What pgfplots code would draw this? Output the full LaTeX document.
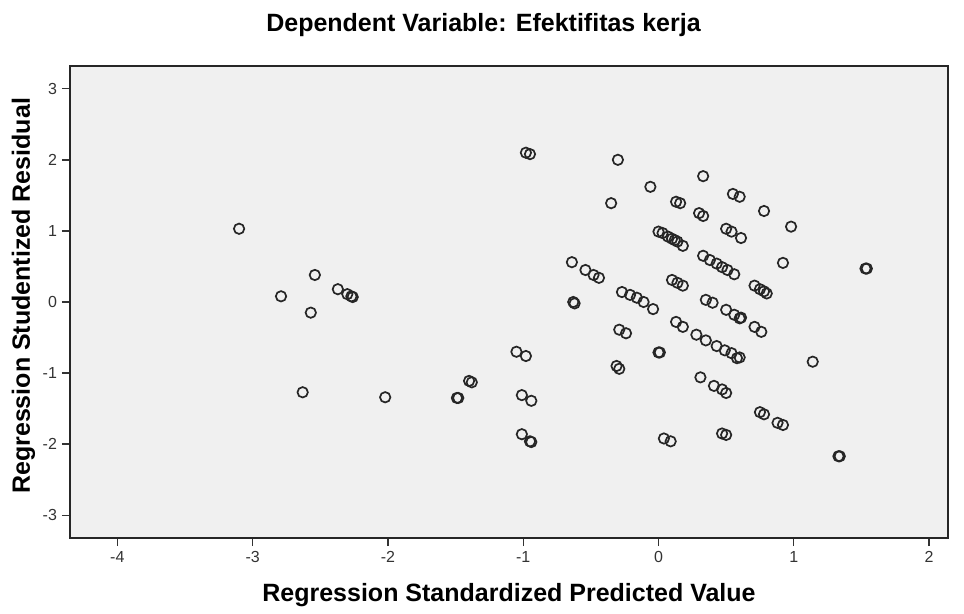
\documentclass[border=0pt]{standalone}
\usepackage{pgfplots}
\pgfplotsset{compat=1.18}
\usepackage{fontspec}
\setmainfont{Liberation Sans}
\begin{document}
\begin{tikzpicture}
\begin{axis}[
    scale only axis,
    width=439pt,
    height=236pt,
    xmin=-4.35, xmax=2.14,
    ymin=-3.32, ymax=3.32,
    xtick={-4,-3,-2,-1,0,1,2},
    ytick={-3,-2,-1,0,1,2,3},
    xtick pos=bottom,
    ytick pos=left,
    tick align=outside,
    major tick length=4pt,
    tick style={black!80, line width=0.7pt},
    axis line style={black!85, line width=0.9pt},
    axis background/.style={fill=black!6},
    /pgf/number format/assume math mode=true,
    tick label style={font=\fontsize{8}{9}\selectfont, black!80},
    xticklabel style={yshift=1pt},
    yticklabel style={xshift=1pt},
    clip=false,
    axis on top,
]
\addplot[only marks, mark=o, mark size=2.6pt,
    mark options={draw=black!85, line width=0.85pt}] table {
x y
-3.10 1.03
-2.79 0.08
-2.54 0.38
-2.57 -0.15
-2.37 0.18
-2.30 0.11
-2.27 0.08
-2.26 0.07
-2.63 -1.27
-2.02 -1.34
-1.49 -1.35
-1.48 -1.35
-1.40 -1.11
-1.38 -1.13
-1.05 -0.70
-0.98 -0.76
-1.01 -1.31
-0.94 -1.39
-1.01 -1.86
-0.95 -1.96
-0.94 -1.97
-0.98 2.10
-0.95 2.08
-0.63 0.00
-0.62 -0.02
-0.64 0.56
-0.54 0.45
-0.48 0.38
-0.44 0.34
-0.35 1.39
-0.30 2.00
-0.06 1.62
-0.31 -0.90
-0.29 -0.94
-0.27 0.14
-0.21 0.10
-0.16 0.06
-0.11 0.00
-0.04 -0.10
-0.29 -0.39
-0.24 -0.44
0.13 -0.28
0.18 -0.35
0.28 -0.46
0.35 -0.54
0.43 -0.62
0.49 -0.68
0.54 -0.72
0.58 -0.79
0.60 -0.78
0.01 -0.71
0.00 -0.71
0.04 -1.92
0.09 -1.96
0.31 -1.06
0.41 -1.18
0.47 -1.23
0.50 -1.28
0.47 -1.85
0.50 -1.87
0.75 -1.55
0.78 -1.58
0.88 -1.70
0.92 -1.73
1.33 -2.17
1.34 -2.17
1.14 -0.84
0.71 -0.35
0.76 -0.42
0.50 -0.11
0.56 -0.18
0.60 -0.23
0.61 -0.22
0.35 0.03
0.40 -0.01
0.71 0.23
0.75 0.18
0.78 0.15
0.80 0.12
0.33 0.65
0.38 0.59
0.43 0.54
0.47 0.49
0.51 0.45
0.56 0.39
0.92 0.55
0.50 1.03
0.54 0.99
0.61 0.90
0.30 1.25
0.33 1.21
0.33 1.77
0.55 1.52
0.60 1.48
0.78 1.28
0.98 1.06
1.53 0.47
1.54 0.47
0.13 1.41
0.16 1.39
0.00 0.99
0.03 0.97
0.07 0.92
0.10 0.89
0.12 0.87
0.14 0.85
0.18 0.79
0.10 0.31
0.14 0.27
0.18 0.23
};
\coordinate (bl) at (rel axis cs:-0.0797,-0.161);
\coordinate (tr) at (rel axis cs:1.0182,1.1398);
\node[font=\fontsize{12.5}{14}\selectfont\bfseries] at (rel axis cs:0.471,1.087)
    {Dependent Variable: Efektifitas kerja};
\node[font=\fontsize{12.5}{14}\selectfont\bfseries] at (rel axis cs:0.5,-0.121)
    {Regression Standardized Predicted Value};
\node[font=\fontsize{12.5}{14}\selectfont\bfseries, rotate=90] at (rel axis cs:-0.053,0.513)
    {Regression Studentized Residual};
\end{axis}
\pgfresetboundingbox
\path[use as bounding box] (bl) rectangle (tr);
\end{tikzpicture}
\end{document}
